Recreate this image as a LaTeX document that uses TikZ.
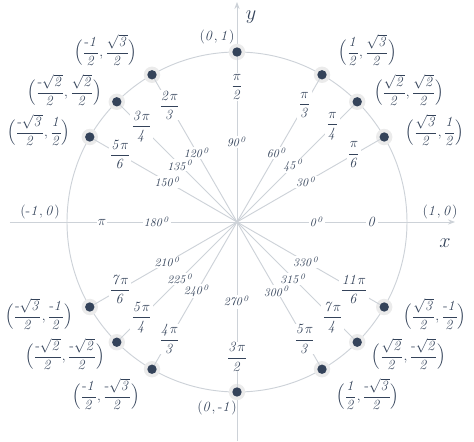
\documentclass[tikz,border=0pt]{standalone}
\usepackage{amsmath,amssymb}
\usetikzlibrary{arrows.meta}
\definecolor{ink}{HTML}{34435A}
\definecolor{rim}{HTML}{CDD2D8}
\tikzset{
  lbl/.style={text=ink, fill=white, inner sep=1pt, font=\large},
  deg/.style={text=ink, fill=white, inner sep=1pt, font=\normalsize},
  crd/.style={text=ink, inner sep=0pt, font=\large},
  dot/.style={circle, fill=ink, inner sep=0pt, minimum size=8pt},
  halo/.style={circle, fill=black!8, inner sep=0pt, minimum size=14pt}
}
\begin{document}
\begin{tikzpicture}[x=0.03cm,y=0.03cm]
    \useasboundingbox (-237,-219) rectangle (237,222);
    \coordinate (O) at (0,0);
    \coordinate (xl) at (-227,0);
    \coordinate (xr) at (218,0);
    \coordinate (yb) at (0,-219);
    \coordinate (yt) at (0,220);

    \draw[rim, line width=0.8pt] (O) circle (170);
    \draw[rim, line width=0.8pt, -{Stealth[length=6pt]}] (xl) -- (xr);
    \draw[rim, line width=0.8pt, -{Stealth[length=6pt]}] (yb) -- (yt);

    % spokes to the points on the circle
    \foreach \a in {30,45,60,90,120,135,150,210,225,240,270,300,315,330}{
        \node[halo] at (\a:170) {};
        \draw[rim, line width=0.8pt] (O) -- (\a:170);
        \node[dot] (p\a) at (\a:170) {};
    }

    % radian and degree labels
    \foreach \a/\r in {0/0, 30/{\dfrac{\pi}{6}}, 45/{\dfrac{\pi}{4}}, 60/{\dfrac{\pi}{3}},
        90/{\dfrac{\pi}{2}}, 120/{\dfrac{2\pi}{3}}, 135/{\dfrac{3\pi}{4}}, 150/{\dfrac{5\pi}{6}},
        180/\pi, 210/{\dfrac{7\pi}{6}}, 225/{\dfrac{5\pi}{4}}, 240/{\dfrac{4\pi}{3}},
        270/{\dfrac{3\pi}{2}}, 300/{\dfrac{5\pi}{3}}, 315/{\dfrac{7\pi}{4}}, 330/{\dfrac{11\pi}{6}}}{
        \node[lbl] (r\a) at (\a:135) {$\mathit{\r}$};
        \node[deg] (d\a) at (\a:80) {$\mathit{\a^0}$};
    }

    % coordinates of the points
    \node[crd] (c90) at (-20,185) {$\mathit{(0,1)}$};
    \node[crd] (c270) at (-20,-186) {$\mathit{(0,\text{-}1)}$};
    \node[crd] (c0) at (203,10) {$\mathit{(1,0)}$};
    \node[crd] (c180) at (-197,10) {$\mathit{(\text{-}1,0)}$};
    \node[crd] (c60) at (131,172) {$\mathit{\Bigl(\dfrac{1}{2},\dfrac{\sqrt{3}}{2}\Bigr)}$};
    \node[crd] (c45) at (172,132) {$\mathit{\Bigl(\dfrac{\sqrt{2}}{2},\dfrac{\sqrt{2}}{2}\Bigr)}$};
    \node[crd] (c30) at (198,92) {$\mathit{\Bigl(\dfrac{\sqrt{3}}{2},\dfrac{1}{2}\Bigr)}$};
    \node[crd] (c120) at (-131,172) {$\mathit{\Bigl(\dfrac{\text{-}1}{2},\dfrac{\sqrt{3}}{2}\Bigr)}$};
    \node[crd] (c135) at (-172,132) {$\mathit{\Bigl(\dfrac{\text{-}\sqrt{2}}{2},\dfrac{\sqrt{2}}{2}\Bigr)}$};
    \node[crd] (c150) at (-198,92) {$\mathit{\Bigl(\dfrac{\text{-}\sqrt{3}}{2},\dfrac{1}{2}\Bigr)}$};
    \node[crd] (c240) at (-131,-172) {$\mathit{\Bigl(\dfrac{\text{-}1}{2},\dfrac{\text{-}\sqrt{3}}{2}\Bigr)}$};
    \node[crd] (c225) at (-172,-132) {$\mathit{\Bigl(\dfrac{\text{-}\sqrt{2}}{2},\dfrac{\text{-}\sqrt{2}}{2}\Bigr)}$};
    \node[crd] (c210) at (-198,-92) {$\mathit{\Bigl(\dfrac{\text{-}\sqrt{3}}{2},\dfrac{\text{-}1}{2}\Bigr)}$};
    \node[crd] (c300) at (131,-172) {$\mathit{\Bigl(\dfrac{1}{2},\dfrac{\text{-}\sqrt{3}}{2}\Bigr)}$};
    \node[crd] (c315) at (172,-132) {$\mathit{\Bigl(\dfrac{\sqrt{2}}{2},\dfrac{\text{-}\sqrt{2}}{2}\Bigr)}$};
    \node[crd] (c330) at (198,-92) {$\mathit{\Bigl(\dfrac{\sqrt{3}}{2},\dfrac{\text{-}1}{2}\Bigr)}$};

    \node[crd, font=\LARGE] (xa) at (208,-21) {$x$};
    \node[crd, font=\LARGE] (ya) at (14,205) {$y$};
\end{tikzpicture}
\end{document}
